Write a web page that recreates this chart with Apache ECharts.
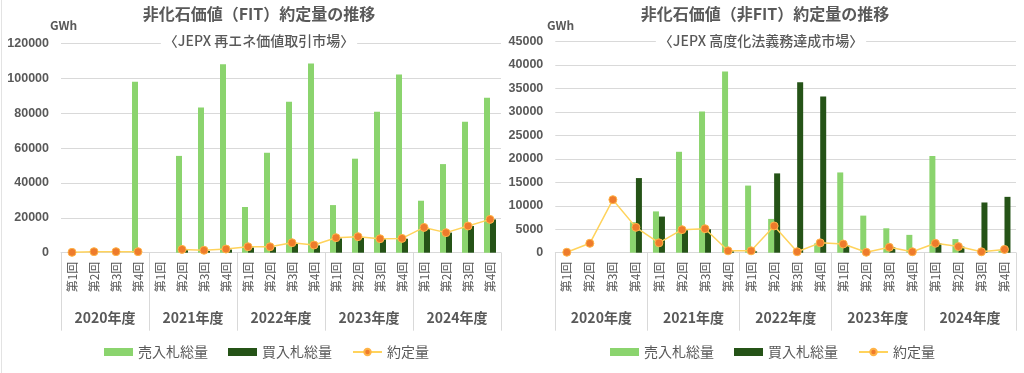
<!DOCTYPE html>
<html><head><meta charset="utf-8">
<script src="https://cdn.jsdelivr.net/npm/echarts@6/dist/echarts.min.js"></script>
<style>
body{margin:0;background:#fff;}
#a,#b{position:absolute;top:0;height:373px;}
#a{left:0;width:512px;} #b{left:470px;width:554px;}
</style>
</head><body>
<div id="a"></div><div id="b"></div>
<script>
// ---- data ----
const quarterLabels = ['第1回','第2回','第3回','第4回'];
const years = ['2020年度','2021年度','2022年度','2023年度','2024年度'];
const categories = years.flatMap(() => quarterLabels);
const seriesNames = ['売入札総量','買入札総量','約定量'];

// FIT (JEPX 再エネ価値取引市場), GWh
const fitSell     = [0,0,0,98000,  null,55500,83300,108100,  26200,57300,86500,108500,  27300,53900,80800,102200,  29800,50800,75100,88800];
const fitBuy      = [0,0,0,0,      null,1500,1000,1800,      3000,3200,5000,4200,       8200,8600,7700,8000,       14000,11500,15300,19100];
const fitContract = [200,600,600,600, null,1900,1400,2100,   3400,3400,5700,4400,       8600,9200,8000,8200,       14500,11500,15300,19100];

// 非FIT (JEPX 高度化法義務達成市場), GWh
const nfSell      = [null,null,null,6500, 8800,21500,30100,38600, 14300,7200,0,2000,  17100,7900,5200,3800,  20600,2900,0,400];
const nfBuy       = [null,null,null,15900, 7700,4800,5000,300,   300,16900,36300,33300, 1600,0,1150,0,     2000,1300,10700,11900];
const nfContract  = [100,2000,11300,5400, 2100,4900,5100,400,    400,5700,200,2100,   1850,100,1150,200,   2000,1300,200,700];

const fitAxis = {min:0, max:120000, interval:20000};
const nfAxis  = {min:0, max:45000, interval:5000};

const FONT = "'Noto Sans CJK JP','Noto Sans',sans-serif";
const GREY = '#595959';
const LINEGREY = '#d9d9d9';
const C_SELL = '#8BD46E', C_BUY = '#255317', C_LINE = '#FFD35C', C_DOT = '#EE7B2C';

function makeOption(cfg){
  return {
    animation:false,
    textStyle:{fontFamily:FONT},
    title:[
      {text:cfg.title, left:cfg.titleX, top:6, textAlign:'center', padding:0,
       textStyle:{fontFamily:FONT, fontSize:16, fontWeight:'bold', color:GREY}},
      {text:cfg.sub, left:cfg.subX, top:34, textAlign:'center', padding:[0,3], backgroundColor:'#fff',
       textStyle:{fontFamily:FONT, fontSize:14, fontWeight:500, color:GREY}},
      {text:'GWh', left:cfg.gwhX, top:19, padding:0,
       textStyle:{fontFamily:FONT, fontSize:12, fontWeight:'bold', color:GREY}}
    ],
    legend:{
      bottom:14, left:cfg.legendX, itemWidth:29, itemHeight:8, itemGap:20, padding:0,
      textStyle:{fontFamily:FONT, fontSize:14, color:GREY},
      data:[{name:seriesNames[0], icon:'rect'},{name:seriesNames[1], icon:'rect'},{name:seriesNames[2]}]
    },
    grid:{left:cfg.gridLeft, right:cfg.gridRight, top:cfg.gridTop, bottom:120.3, outerBoundsMode:'none', containLabel:false},
    xAxis:[
      {type:'category', data:categories, gridIndex:0,
       axisLine:{lineStyle:{color:LINEGREY}}, axisTick:{show:false},
       axisLabel:{interval:0, rotate:90, fontSize:12, color:GREY, margin:9, fontFamily:FONT}},
      {type:'category', data:years, gridIndex:0, position:'bottom',
       axisLine:{show:false},
       axisTick:{show:true, length:78, lineStyle:{color:LINEGREY}},
       axisLabel:{interval:0, fontSize:14, fontWeight:'bold', color:GREY, margin:58, fontFamily:FONT}}
    ],
    yAxis:{type:'value', min:cfg.axis.min, max:cfg.axis.max, interval:cfg.axis.interval,
      axisLine:{show:false}, axisTick:{show:false},
      splitLine:{lineStyle:{color:LINEGREY, width:1}},
      axisLabel:{fontSize:12.5, fontWeight:'bold', color:GREY, margin:12,
        fontFamily:"'Liberation Sans',Arial,sans-serif", formatter:v => String(v)}},
    series:[
      {name:seriesNames[0], type:'bar', data:cfg.sell, barWidth:6, barGap:'0%', itemStyle:{color:C_SELL}},
      {name:seriesNames[1], type:'bar', data:cfg.buy, barWidth:6, barGap:'0%', itemStyle:{color:C_BUY}},
      {name:seriesNames[2], type:'line', data:cfg.contract, symbol:'circle', symbolSize:8,
       connectNulls:false, z:5,
       lineStyle:{color:C_LINE, width:1.5},
       itemStyle:{color:C_DOT, borderColor:'#FFB347', borderWidth:1}}
    ],
    graphic: cfg.border ? [{type:'line', shape:{x1:1.5,y1:0,x2:1.5,y2:373}, style:{stroke:'#e3e3e3', lineWidth:1}}] : []
  };
}

const ca = echarts.init(document.getElementById('a'), null, {renderer:'canvas'});
ca.setOption(makeOption({
  title:'非化石価値（FIT）約定量の推移', titleX:259,
  sub:'〈JEPX 再エネ価値取引市場〉', subX:256, gwhX:50, legendX:104,
  gridLeft:61, gridRight:11, gridTop:43.4,
  axis:fitAxis, sell:fitSell, buy:fitBuy, contract:fitContract, border:true
}));
// right chart: its container starts at x=470 so the y labels can reach left of x=512
const cb = echarts.init(document.getElementById('b'), null, {renderer:'canvas'});
cb.setOption(makeOption({
  title:'非化石価値（非FIT）約定量の推移', titleX:295,
  sub:'〈JEPX 高度化法義務達成市場〉', subX:288, gwhX:77, legendX:140,
  gridLeft:85.3, gridRight:8, gridTop:41.5,
  axis:nfAxis, sell:nfSell, buy:nfBuy, contract:nfContract, border:false
}));
</script>
</body></html>
